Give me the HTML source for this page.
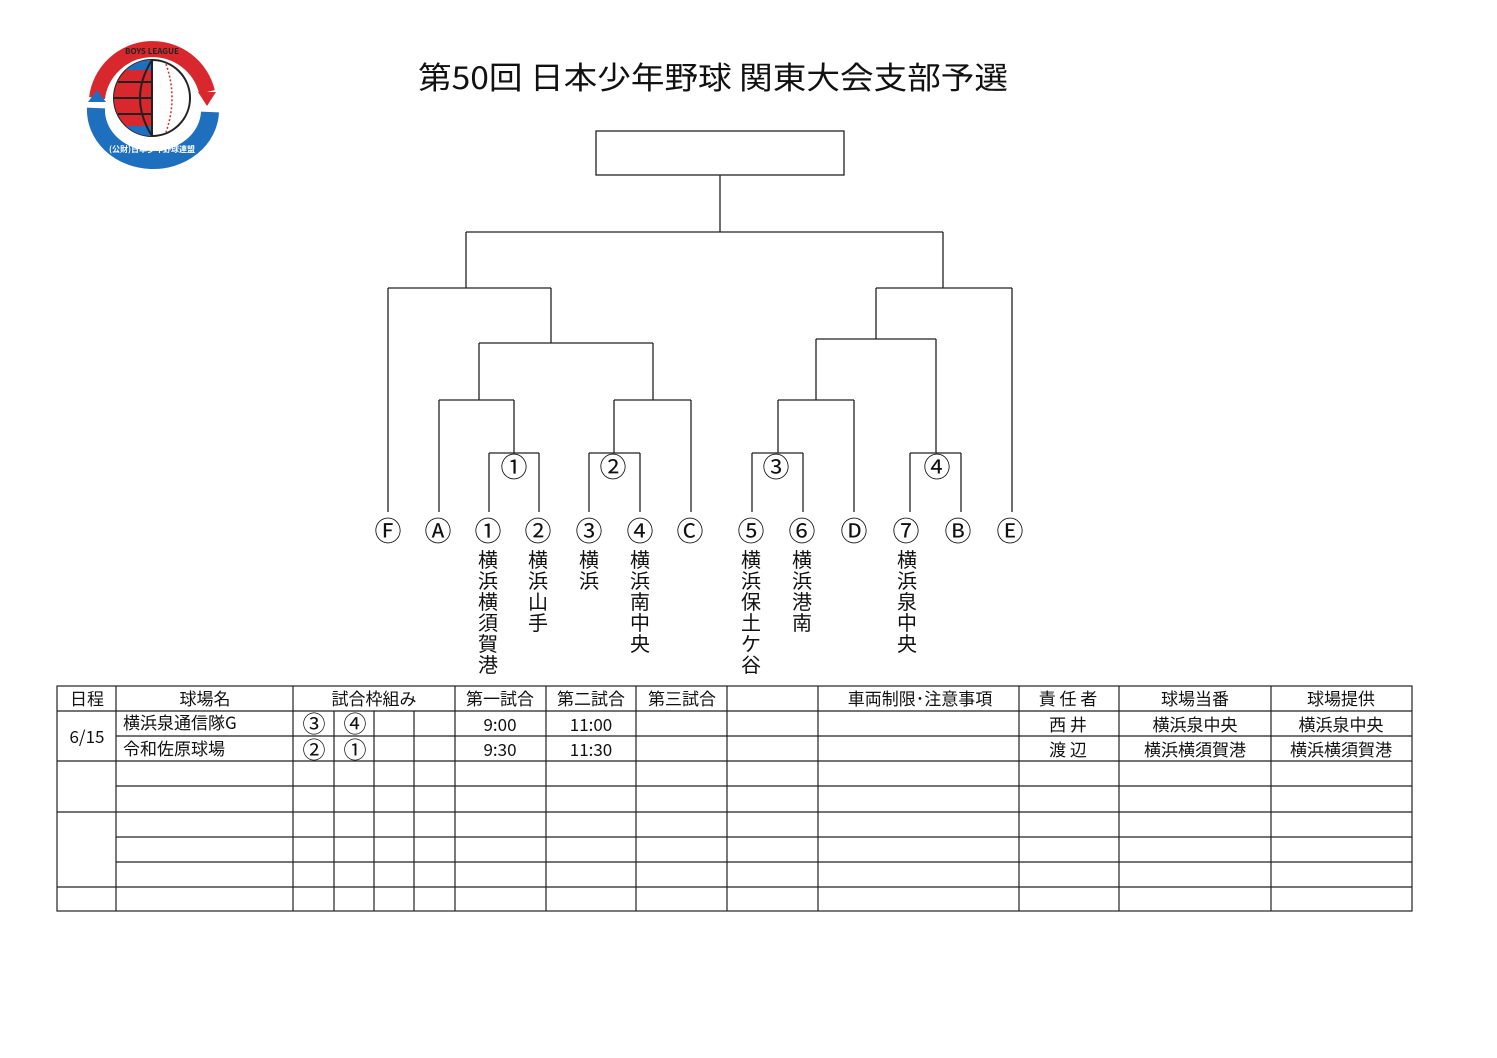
<!DOCTYPE html>
<html><head><meta charset="utf-8"><style>
html,body{margin:0;padding:0;background:#fff;}
svg{display:block;font-family:"Noto Sans CJK JP","Liberation Sans",sans-serif;}
</style></head><body>
<svg width="1497" height="1058" viewBox="0 0 1497 1058" xmlns="http://www.w3.org/2000/svg">
<g>
<path d="M97,98 A56,56 0 0 1 207,92" fill="none" stroke="#d8282e" stroke-width="16"/>
<polygon points="198,92 216,92 207,106" fill="#d8282e"/>
<path d="M96,108 A57,50 0 0 0 210,112" fill="none" stroke="#1f6fbf" stroke-width="18"/>
<polygon points="88,102 106,102 97,90" fill="#1f6fbf"/>
<circle cx="152" cy="98" r="38" fill="#fff" stroke="#222" stroke-width="2"/>
<path d="M152,60 A38,38 0 0 0 152,136 Z" fill="#d8282e"/>
<path d="M152,60 A38,38 0 0 0 126,70 L152,70Z" fill="#1f6fbf"/>
<path d="M152,136 A38,38 0 0 1 126,126 L152,126Z" fill="#1f6fbf"/>
<line x1="114" y1="98" x2="152" y2="98" stroke="#222" stroke-width="2"/>
<line x1="118" y1="82" x2="152" y2="82" stroke="#222" stroke-width="2"/>
<line x1="118" y1="114" x2="152" y2="114" stroke="#222" stroke-width="2"/>
<path d="M152,60 Q128,98 152,136" fill="none" stroke="#222" stroke-width="2"/>
<line x1="152" y1="60" x2="152" y2="136" stroke="#222" stroke-width="2"/>
<path d="M166,64 Q178,98 166,132" fill="none" stroke="#c33" stroke-width="1.5" stroke-dasharray="2,2"/>
<text x="152" y="54" font-size="8" font-weight="bold" text-anchor="middle" fill="#222">BOYS LEAGUE</text>
<text x="152" y="152" font-size="8" font-weight="bold" text-anchor="middle" fill="#fff">(公財)日本少年野球連盟</text>
</g>
<text x="713" y="89" font-size="31" text-anchor="middle" fill="#111" textLength="590" lengthAdjust="spacingAndGlyphs">第50回 日本少年野球 関東大会支部予選</text>
<g stroke="#222" stroke-width="1.3" fill="none">
<rect x="596" y="131" width="248" height="44"/>
<path d="M720,175V232M466,232H943M466,232V288M388,288H551M388,288V512M551,288V343M479,343H653M479,343V400M439,400H514M439,400V512M514,400V453M489,453H539M489,453V512M539,453V512M653,343V400M614,400H691M691,400V512M614,400V453M589,453H640M589,453V512M640,453V512"/>
<path d="M943,232V288M876,288H1012M1012,288V512M876,288V339M816,339H936M816,339V400M778,400H854M854,400V512M778,400V453M752,453H803M752,453V512M803,453V512M936,339V453M910,453H961M910,453V512M961,453V512"/>
</g>
<g font-size="27" text-anchor="middle" fill="#111">
<text x="514" y="477">①</text><text x="613" y="477">②</text><text x="776" y="477">③</text><text x="937" y="477">④</text>
<text x="388" y="541">Ⓕ</text><text x="438" y="541">Ⓐ</text><text x="488" y="541">①</text><text x="538" y="541">②</text><text x="589" y="541">③</text><text x="640" y="541">④</text><text x="690" y="541">Ⓒ</text><text x="751" y="541">⑤</text><text x="802" y="541">⑥</text><text x="854" y="541">Ⓓ</text><text x="906" y="541">⑦</text><text x="958" y="541">Ⓑ</text><text x="1010" y="541">Ⓔ</text>
</g>
<g font-size="20" text-anchor="middle" fill="#111">
<text x="488" y="567">横</text><text x="488" y="588">浜</text><text x="488" y="609">横</text><text x="488" y="630">須</text><text x="488" y="651">賀</text><text x="488" y="672">港</text>
<text x="538" y="567">横</text><text x="538" y="588">浜</text><text x="538" y="609">山</text><text x="538" y="630">手</text>
<text x="589" y="567">横</text><text x="589" y="588">浜</text>
<text x="640" y="567">横</text><text x="640" y="588">浜</text><text x="640" y="609">南</text><text x="640" y="630">中</text><text x="640" y="651">央</text>
<text x="751" y="567">横</text><text x="751" y="588">浜</text><text x="751" y="609">保</text><text x="751" y="630">土</text><text x="751" y="651">ケ</text><text x="751" y="672">谷</text>
<text x="802" y="567">横</text><text x="802" y="588">浜</text><text x="802" y="609">港</text><text x="802" y="630">南</text>
<text x="907" y="567">横</text><text x="907" y="588">浜</text><text x="907" y="609">泉</text><text x="907" y="630">中</text><text x="907" y="651">央</text>
</g>
<g stroke="#222" stroke-width="1.2" fill="none">
<rect x="57" y="686" width="1355" height="225"/>
<path d="M57,711H1412M116,736H1412M57,761H1412M116,786H1412M57,812H1412M116,837H1412M116,862H1412M57,887H1412"/>
<path d="M116,686V911M293,686V911M455,686V911M546,686V911M636,686V911M727,686V911M818,686V911M1019,686V911M1119,686V911M1271,686V911"/>
<path d="M334,711V911M374,711V911M414,711V911"/>
</g>
<g font-size="17" fill="#111" text-anchor="middle">
<text x="87" y="705">日程</text><text x="205" y="705">球場名</text><text x="374" y="705">試合枠組み</text>
<text x="500" y="705">第一試合</text><text x="591" y="705">第二試合</text><text x="682" y="705">第三試合</text>
<text x="920" y="705">車両制限･注意事項</text><text x="1068" y="705">責 任 者</text><text x="1195" y="705">球場当番</text><text x="1341" y="705">球場提供</text>
<text x="87" y="743">6/15</text>
<text x="500" y="731">9:00</text><text x="591" y="731">11:00</text>
<text x="500" y="756">9:30</text><text x="591" y="756">11:30</text>
<text x="1068" y="731">西 井</text><text x="1195" y="731">横浜泉中央</text><text x="1341" y="731">横浜泉中央</text>
<text x="1068" y="756">渡 辺</text><text x="1195" y="756">横浜横須賀港</text><text x="1341" y="756">横浜横須賀港</text>
</g>
<g font-size="17" fill="#111">
<text x="123" y="729">横浜泉通信隊G</text><text x="123" y="755">令和佐原球場</text>
</g>
<g font-size="23" fill="#111" text-anchor="middle">
<text x="314" y="732">③</text><text x="355" y="732">④</text>
<text x="314" y="758">②</text><text x="355" y="758">①</text>
</g>
</svg>
</body></html>
